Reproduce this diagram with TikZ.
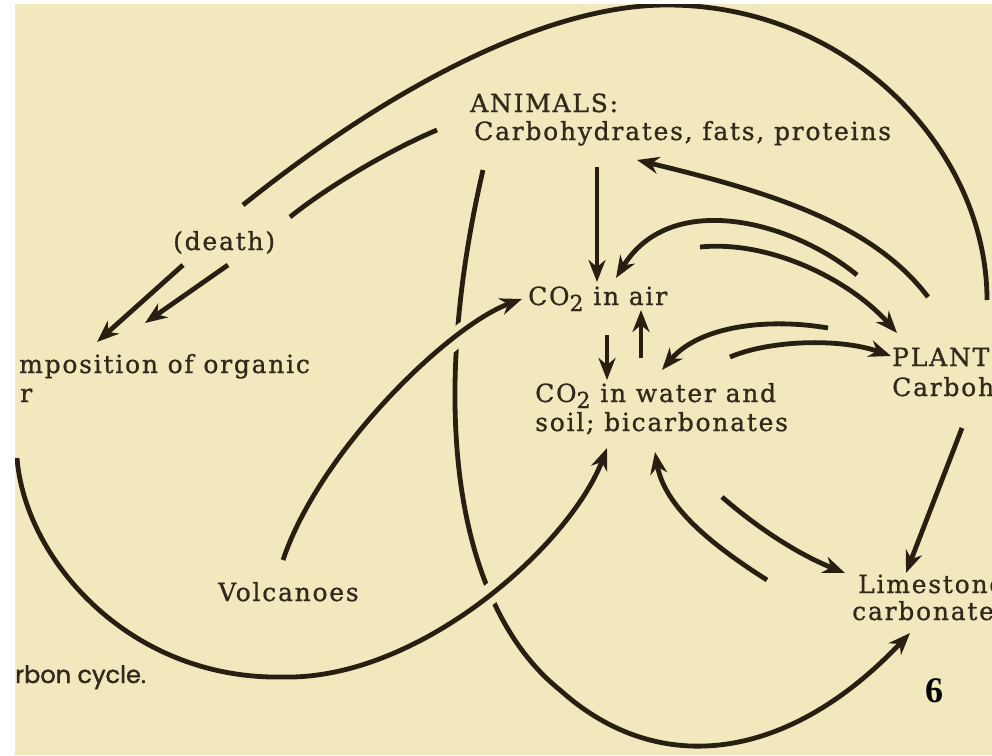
\documentclass[tikz,border=0pt]{standalone}
\usepackage{fontspec}
\setmainfont{DejaVu Serif}
\newfontfamily\lab[LetterSpace=7,FakeBold=0.9]{DejaVu Serif}
\newfontfamily\capfont[FakeBold=1.5]{Poppins}
\newfontfamily\numfont{Liberation Serif}
\usetikzlibrary{arrows.meta}
\definecolor{bg}{RGB}{242,232,190}
\definecolor{ink}{RGB}{38,31,18}
\definecolor{txt}{RGB}{48,42,28}
\newcommand\subtwo{\raisebox{-6pt}{\fontsize{22}{22}\selectfont 2}}
\begin{document}
\begin{tikzpicture}[x=1pt,y=-1pt,
  lbl/.style={anchor=base west, inner sep=0pt, text=txt, font=\lab\fontsize{25}{28}\selectfont},
  conn/.style={draw=ink, line width=4.8pt},
  arr/.style={conn, -{Stealth[length=22pt,width=17pt,inset=7pt]}},
  halo/.style={draw=bg, line width=20pt}]
\useasboundingbox (0,0) rectangle (992,755);
\fill[white] (0,0) rectangle (992,755);
\fill[bg] (15,4) rectangle (992,755);

% coordinates
\coordinate (deathA) at (243,205);
\coordinate (topP) at (667,5);
\coordinate (plantTop) at (987,300);
\coordinate (animL) at (437,130);
\coordinate (deathB) at (290,217);
\coordinate (d1s) at (183,265); \coordinate (d1e) at (97,342);
\coordinate (d2s) at (228,265); \coordinate (d2e) at (145,323);
\coordinate (animV) at (597,167); \coordinate (airTop) at (597,282);
\coordinate (animS) at (483,170); \coordinate (animM) at (560,690); \coordinate (limeB) at (910,633);
\coordinate (volc) at (283,560); \coordinate (airL) at (522,299);
\coordinate (decS) at (17,458); \coordinate (decM) at (283,677); \coordinate (watL) at (607,448);
\coordinate (downS) at (607,335); \coordinate (downE) at (607,380);
\coordinate (upS) at (641,358); \coordinate (upE) at (641,310);
\coordinate (p1s) at (928,297); \coordinate (p1e) at (637,160);
\coordinate (p2s) at (857,275); \coordinate (p2e) at (616,278);
\coordinate (p3s) at (700,247); \coordinate (p3e) at (897,333);
\coordinate (p4s) at (828,328); \coordinate (p4e) at (662,370);
\coordinate (p5s) at (730,357); \coordinate (p5e) at (891,356);
\coordinate (plS) at (962,428); \coordinate (plE) at (906,573);
\coordinate (l1s) at (767,580); \coordinate (l1e) at (655,452);
\coordinate (l2s) at (722,497); \coordinate (l2e) at (845,573);

% long curve animals -> limestone (drawn underneath)
\draw[arr] (animS) .. controls (425,420) and (460,610) .. (animM)
  .. controls (660,780) and (790,760) .. (limeB);

% halos at crossings
\begin{scope}
\clip (425,290) rectangle (490,355);
\draw[halo] (volc) .. controls (320,450) and (450,325) .. (airL);
\end{scope}
\begin{scope}
\clip (455,565) rectangle (520,630);
\draw[halo] (decM) .. controls (420,680) and (570,545) .. (watL);
\end{scope}

% top arc and death lines
\draw[conn] (deathA) .. controls (380,95) and (540,5) .. (topP)
  .. controls (850,5) and (987,150) .. (plantTop);
\draw[conn] (animL) .. controls (390,150) and (330,185) .. (deathB);
\draw[arr] (d1s) -- (d1e);
\draw[arr] (d2s) -- (d2e);

\draw[arr] (animV) -- (airTop);
\draw[arr] (volc) .. controls (320,450) and (450,325) .. (airL);
\draw[arr] (decS) .. controls (25,560) and (130,680) .. (decM)
  .. controls (420,680) and (570,545) .. (watL);
\draw[arr] (downS) -- (downE);
\draw[arr] (upS) -- (upE);

\draw[arr] (p1s) .. controls (870,220) and (760,190) .. (p1e);
\draw[arr] (p2s) .. controls (790,220) and (670,190) .. (p2e);
\draw[arr] (p3s) .. controls (770,240) and (850,280) .. (p3e);
\draw[arr] (p4s) .. controls (770,318) and (700,325) .. (p4e);
\draw[arr] (p5s) .. controls (770,340) and (840,338) .. (p5e);
\draw[arr] (plS) -- (plE);
\draw[arr] (l1s) .. controls (720,550) and (665,510) .. (l1e);
\draw[arr] (l2s) .. controls (760,530) and (800,555) .. (l2e);

% labels
\node[lbl] (anim1) at (470,112) {ANIMALS:};
\node[lbl] (anim2) at (474,140) {Carbohydrates, fats, proteins};
\node[lbl] (death) at (173,250) {(death)};
\node[lbl] (air) at (528,305) {CO\subtwo{} in air};
\node[lbl] (wat1) at (535,402) {CO\subtwo{} in water and};
\node[lbl] (wat2) at (535,431) {soil; bicarbonates};
\node[lbl] (pl1) at (892,366) {PLANT};
\node[lbl] (pl2) at (892,396) {Carboh};
\node[lbl] (lime1) at (858,593) {Limestone};
\node[lbl] (lime2) at (852,620) {carbonates};
\node[lbl] (volcT) at (218,601) {Volcanoes};
\node[lbl] (dec1) at (19,373) {mposition of organic};
\node[lbl] (dec2) at (20,402) {r};
\node[anchor=base west, inner sep=0pt, text=txt, font=\capfont\fontsize{24}{28}\selectfont] (cap) at (15,683) {rbon cycle.};
\node[anchor=base west, inner sep=0pt, text=black, font=\numfont\bfseries\fontsize{36}{36}\selectfont] (num) at (925,702) {6};
\fill[white] (0,0) rectangle (15,755);
\fill[white] (0,0) rectangle (992,4);
\end{tikzpicture}
\end{document}
